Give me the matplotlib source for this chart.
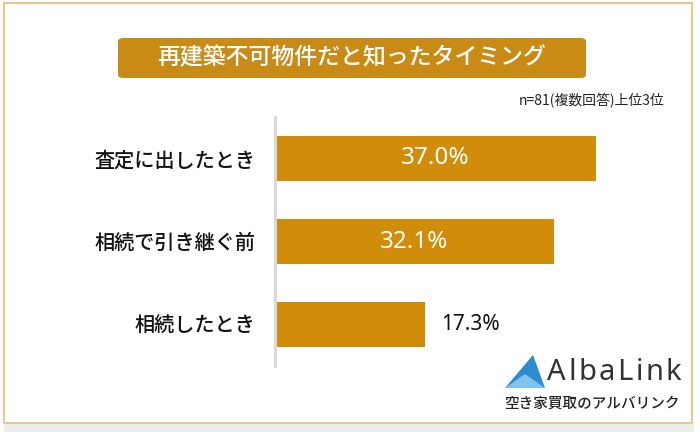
import matplotlib.pyplot as plt
from matplotlib.patches import FancyBboxPatch, Rectangle, Polygon

plt.rcParams['font.family'] = ['Noto Sans CJK JP', 'DejaVu Sans']

categories = ['査定に出したとき', '相続で引き継ぐ前', '相続したとき']
values = [37.0, 32.1, 17.3]
title = '再建築不可物件だと知ったタイミング'
note = 'n=81(複数回答)上位3位'

W, H = 700, 432
fig = plt.figure(figsize=(7, 4.32), dpi=100)
fig.patch.set_facecolor('white')

def px(x, y, w, h):
    return [x / W, 1 - (y + h) / H, w / W, h / H]

# shadow + border
fig.patches.append(Rectangle((4 / W, 0), 690 / W, 9 / H, transform=fig.transFigure,
                             facecolor='#EDEDED', edgecolor='none', zorder=0))
fig.patches.append(Rectangle((4 / W, 1 - 423 / H), 688 / W, 420 / H, transform=fig.transFigure,
                             facecolor='white', edgecolor='#E8C88F', linewidth=1.5, zorder=1))

# title box
fig.patches.append(FancyBboxPatch((118 / W, 1 - 78 / H), 468 / W, 40 / H,
                                  boxstyle='round,pad=0,rounding_size=0.008',
                                  transform=fig.transFigure, facecolor='#C98A16',
                                  edgecolor='none', zorder=2))
fig.text(352 / W, 1 - 58 / H, title, color='white', fontsize=16.5, fontweight='medium',
         ha='center', va='center', zorder=3)
fig.text(665 / W, 1 - 101 / H, note, color='#222222', fontsize=10,
         ha='right', va='center', zorder=3)

ax = fig.add_axes(px(275, 117, 400, 249))
ax.set_facecolor('none')
ax.set_zorder(3)
y = list(range(len(categories)))
ax.barh(y, values, height=0.54, color='#D18D0A', zorder=2)
ax.set_xlim(0, 400 / 8.68)
ax.set_ylim(2.5, -0.5)
for s in ['top', 'right', 'bottom']:
    ax.spines[s].set_visible(False)
ax.spines['left'].set_color('#D9D9D9')
ax.spines['left'].set_linewidth(2.2)
ax.set_xticks([])
ax.set_yticks(y)
ax.set_yticklabels(categories, fontsize=14.5, color='#111111', fontweight='medium')
ax.tick_params(axis='y', length=0, pad=14)

for i, v in enumerate(values):
    if v > 25:
        ax.text(v / 2, i, f'{v:.1f}%', color='white', fontsize=17.5, fontweight='medium',
                ha='center', va='center', family=['Noto Sans', 'DejaVu Sans'])
    else:
        ax.text(v + 1.8, i, f'{v:.1f}%', color='#111111', fontsize=15, fontweight='medium',
                ha='left', va='center', family=['Noto Sans', 'DejaVu Sans'])

# logo
tri = Polygon([[505 / W, 1 - 388 / H], [533 / W, 1 - 355 / H], [545 / W, 1 - 388 / H]],
              closed=True, transform=fig.transFigure, facecolor='#2E8BD0',
              edgecolor='none', zorder=4)
fig.patches.append(tri)
fig.patches.append(Polygon([[505 / W, 1 - 388 / H], [525 / W, 1 - 374 / H], [545 / W, 1 - 388 / H]],
                           closed=True, transform=fig.transFigure, facecolor='#7FC4EE',
                           edgecolor='none', zorder=5))
logo_x = 547
for ch in 'AlbaLink':
    t = fig.text(logo_x / W, 1 - 373 / H, ch, color='#333333', fontsize=21,
                 ha='left', va='center', family=['Noto Sans', 'DejaVu Sans'], zorder=5)
    bb = t.get_window_extent(renderer=fig.canvas.get_renderer())
    logo_x += bb.width + 2.5
fig.text(592 / W, 1 - 404 / H, '空き家買取のアルバリンク', color='#222222', fontsize=10.5,
         fontweight='medium', ha='center', va='center', zorder=5)

fig.savefig('out.png', dpi=100)
